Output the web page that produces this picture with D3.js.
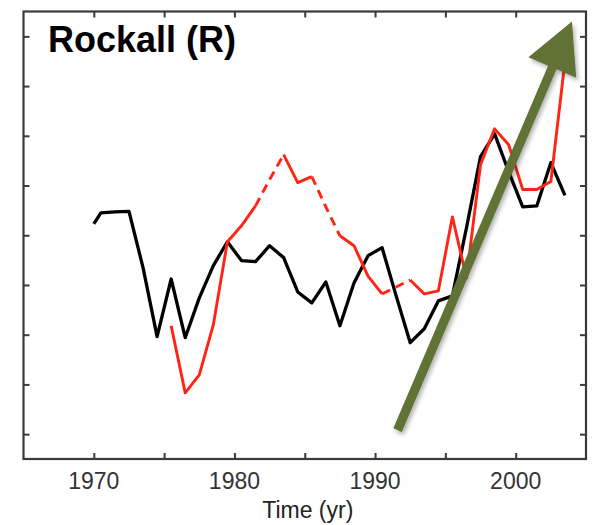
<!DOCTYPE html>
<html>
<head>
<meta charset="utf-8">
<script src="https://cdn.jsdelivr.net/npm/d3@7"></script>
<style>
  html, body { margin: 0; padding: 0; background: #fff; }
  svg { display: block; font-family: "Liberation Sans", Arial, Helvetica, sans-serif; }
</style>
</head>
<body>
<svg id="chart" width="593" height="525"></svg>
<script>
// Black series: annual values (mid-year), plus the opening value at 1970.0
const blackYears = [1970.0, 1970.5, 1971.5, 1972.5, 1973.5, 1974.5, 1975.5, 1976.5, 1977.5, 1978.5,
  1979.5, 1980.5, 1981.5, 1982.5, 1983.5, 1984.5, 1985.5, 1986.5, 1987.5, 1988.5,
  1989.5, 1990.5, 1991.5, 1992.5, 1993.5, 1994.5, 1995.5, 1996.5, 1997.5, 1998.5,
  1999.5, 2000.5, 2001.5, 2002.5, 2003.5];
const blackValues = [4.23, 4.45, 4.47, 4.48, 3.35, 1.96, 3.12, 1.94, 2.74, 3.39,
  3.87, 3.49, 3.47, 3.79, 3.55, 2.86, 2.64, 3.06, 2.18, 3.04,
  3.59, 3.75, 2.78, 1.84, 2.12, 2.68, 2.78, 4.15, 5.58, 6.04,
  5.28, 4.57, 4.59, 5.46, 4.80];

// Red series: annual values; gaps in the record are bridged with dashes
const redYears = [1975.5, 1976.5, 1977.5, 1978.5, 1979.5, 1980.5, 1981.5, 1982.5, 1983.5, 1984.5,
  1985.5, 1986.5, 1987.5, 1988.5, 1989.5, 1990.5, 1991.5, 1992.5, 1993.5, 1994.5,
  1995.5, 1996.5, 1997.5, 1998.5, 1999.5, 2000.5, 2001.5, 2002.5, 2003.5];
const redValues = [2.18, 0.83, 1.19, 2.20, 3.87, 4.19, 4.59, 5.12, 5.62, 5.06,
  5.18, 4.57, 3.99, 3.79, 3.18, 2.82, 2.96, 3.10, 2.82, 2.88,
  4.37, 3.14, 5.42, 6.14, 5.82, 4.92, 4.92, 5.08, 7.49];
const redGaps = [[1981.5, 1983.5], [1985.5, 1987.5], [1990.5, 1992.5]];

// Axis ticks
const xTickLabels = [1970, 1980, 1990, 2000];
const xTicks = [1970, 1975, 1980, 1985, 1990, 1995, 2000];
const yTicks = [0, 1, 2, 3, 4, 5, 6, 7, 8];

// Trend arrow (start and end in data units)
const trendArrow = [[1991.6, 0.08], [2004.0, 8.30]];

const titleText = "Rockall (R)";
const xLabel = "Time (yr)";

const svg = d3.select("#chart");
const plotLeft = 23.5, plotRight = 586, plotTop = 11.5, plotBottom = 459;

const x = d3.scaleLinear().domain([1965, 2005]).range([plotLeft, plotRight]);
const y = d3.scaleLinear().domain([-0.5, 8.5]).range([plotBottom, plotTop]);

const defs = svg.append("defs");
const shadow = defs.append("filter").attr("id", "shadow")
  .attr("x", "-20%").attr("y", "-20%").attr("width", "140%").attr("height", "140%");
shadow.append("feDropShadow").attr("dx", 2).attr("dy", 3).attr("stdDeviation", 2)
  .attr("flood-color", "#000").attr("flood-opacity", 0.3);

// Frame with inward ticks on all four sides
const axisColor = "#3a3a3a";
const tickLen = 6;
const axisG = svg.append("g");

axisG.append("g").attr("transform", `translate(0,${plotBottom})`)
  .call(d3.axisBottom(x).tickValues(xTicks).tickSize(-tickLen).tickFormat(""))
  .call(g => g.select(".domain").remove());
axisG.append("g").attr("transform", `translate(0,${plotTop})`)
  .call(d3.axisTop(x).tickValues(xTicks).tickSize(-tickLen).tickFormat(""))
  .call(g => g.select(".domain").remove());
axisG.append("g").attr("transform", `translate(${plotLeft},0)`)
  .call(d3.axisLeft(y).tickValues(yTicks).tickSize(-tickLen).tickFormat(""))
  .call(g => g.select(".domain").remove());
axisG.append("g").attr("transform", `translate(${plotRight},0)`)
  .call(d3.axisRight(y).tickValues(yTicks).tickSize(-tickLen).tickFormat(""))
  .call(g => g.select(".domain").remove());
axisG.selectAll(".tick line").attr("stroke", axisColor).attr("stroke-width", 2);

axisG.append("rect")
  .attr("x", plotLeft).attr("y", plotTop)
  .attr("width", plotRight - plotLeft).attr("height", plotBottom - plotTop)
  .attr("fill", "none").attr("stroke", axisColor).attr("stroke-width", 2.2);

// Tick labels
svg.append("g").selectAll("text").data(xTickLabels).join("text")
  .attr("x", d => x(d)).attr("y", 489)
  .attr("text-anchor", "middle")
  .attr("font-size", 23).attr("fill", "#333")
  .text(d => d);

svg.append("text")
  .attr("x", (plotLeft + plotRight) / 2 + 3).attr("y", 518)
  .attr("text-anchor", "middle")
  .attr("font-size", 23).attr("fill", "#222")
  .text(xLabel);

// Data lines
const line = d3.line().x(d => x(d[0])).y(d => y(d[1]));

const black = blackYears.map((yr, i) => [yr, blackValues[i]]);
svg.append("path").datum(black)
  .attr("d", line)
  .attr("fill", "none").attr("stroke", "#000")
  .attr("stroke-width", 3.3).attr("stroke-linejoin", "round");

const red = redYears.map((yr, i) => [yr, redValues[i]]);
const inGap = (a, b) => redGaps.some(g => a >= g[0] && b <= g[1]);
// Split the red record into runs of solid and dashed segments
const runs = [];
for (let i = 0; i < red.length - 1; i++) {
  const dashed = inGap(red[i][0], red[i + 1][0]);
  const last = runs[runs.length - 1];
  if (last && last.dashed === dashed) last.pts.push(red[i + 1]);
  else runs.push({ dashed, pts: [red[i], red[i + 1]] });
}
svg.append("g").selectAll("path").data(runs).join("path")
  .attr("d", d => line(d.pts))
  .attr("fill", "none").attr("stroke", "#ff2414")
  .attr("stroke-width", 2.9).attr("stroke-linejoin", "round")
  .attr("stroke-dasharray", d => d.dashed ? "9,6" : null);

// Title
svg.append("text")
  .attr("x", 48).attr("y", 52)
  .attr("font-size", 36).attr("font-weight", "bold").attr("fill", "#000")
  .text(titleText);

// Trend arrow
const [p0, p1] = trendArrow.map(d => [x(d[0]), y(d[1])]);
const dx = p1[0] - p0[0], dy = p1[1] - p0[1];
const len = Math.hypot(dx, dy);
const ux = dx / len, uy = dy / len, px = -uy, py = ux;
const headLen = 50, headHalf = 26, shaftHalf = 4.6;
const bx = p1[0] - ux * headLen, by = p1[1] - uy * headLen;
const arrowPts = [
  [p0[0] + px * shaftHalf, p0[1] + py * shaftHalf],
  [bx + px * shaftHalf, by + py * shaftHalf],
  [bx + px * headHalf, by + py * headHalf],
  p1,
  [bx - px * headHalf, by - py * headHalf],
  [bx - px * shaftHalf, by - py * shaftHalf],
  [p0[0] - px * shaftHalf, p0[1] - py * shaftHalf]
];
svg.append("path")
  .attr("d", "M" + arrowPts.map(p => p.join(",")).join("L") + "Z")
  .attr("fill", "#617234")
  .attr("filter", "url(#shadow)");
</script>
</body>
</html>
